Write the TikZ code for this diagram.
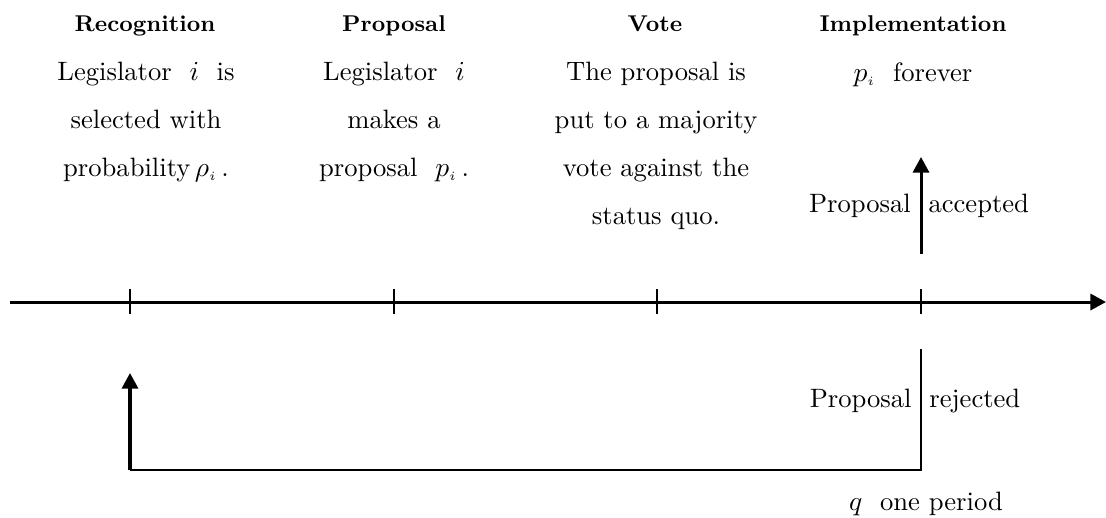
\documentclass[tikz,border=0pt]{standalone}
\usepackage{amsmath}
\usepackage{amssymb}
\usepackage{tikz}
\usetikzlibrary{arrows.meta}

\begin{document}
\begin{tikzpicture}[x=0.014cm,y=-0.014cm,
  heading/.style={font=\fontsize{9.1}{11}\selectfont\bfseries,anchor=base},
  body/.style={font=\fontsize{10.6}{19.1}\selectfont,align=center,anchor=north,inner sep=0pt},
  label/.style={font=\fontsize{10.6}{12}\selectfont,anchor=base},
  tip/.style={-{Triangle[length=6.2pt,width=6.4pt]}}]
  \useasboundingbox (0,0) rectangle (1106,517);
  % time line
  \coordinate (s) at (10,302);
  \coordinate (e) at (1106,302);
  \draw [line width=1.2pt,tip] (s) -- (e);
  \foreach \x/\n in {130/t1,394/t2,657/t3,921/t4}{
    \coordinate (\n) at (\x,302);
    \draw [line width=0.6pt] (\x,289) -- (\x,314);
  }
  % stages
  \node[heading] (rec) at (145,31) {Recognition};
  \node[heading] (prop) at (394,31) {Proposal};
  \node[heading] (vote) at (655,31) {Vote};
  \node[heading] (impl) at (913,31) {Implementation};
  \node[body] (recT) at (146,62) {Legislator\ \ $i$\ \ is\\ selected with\\ probability\,$\rho_{\scriptscriptstyle i}$\,.};
  \node[body] (propT) at (394,62) {Legislator\ \ $i$\\ makes a\\ proposal\ \ $p_{\scriptscriptstyle i}$\,.};
  \node[body] (voteT) at (656,62) {The proposal is\\ put to a majority\\ vote against the\\ status quo.};
  \node[body] (implT) at (913,62) {$p_{\scriptscriptstyle i}$\ \ forever};
  % outcomes
  \node[label] (acc) at (919,212) {Proposal\ \ accepted};
  \node[label] (rej) at (915,407) {Proposal\ \ rejected};
  \node[label] (per) at (926,510) {$q$\ \ one period};
  \coordinate (a1) at (921,254);
  \coordinate (a2) at (921,157);
  \draw [line width=1.2pt,tip] (a1) -- (a2);
  \coordinate (r1) at (921,349);
  \coordinate (r2) at (921,470);
  \coordinate (r3) at (130,470);
  \coordinate (r4) at (130,373);
  \draw [line width=0.7pt] (r1) -- (r2) -- (r3);
  \draw [line width=1.2pt,tip] (r3) -- (r4);
\end{tikzpicture}
\end{document}
